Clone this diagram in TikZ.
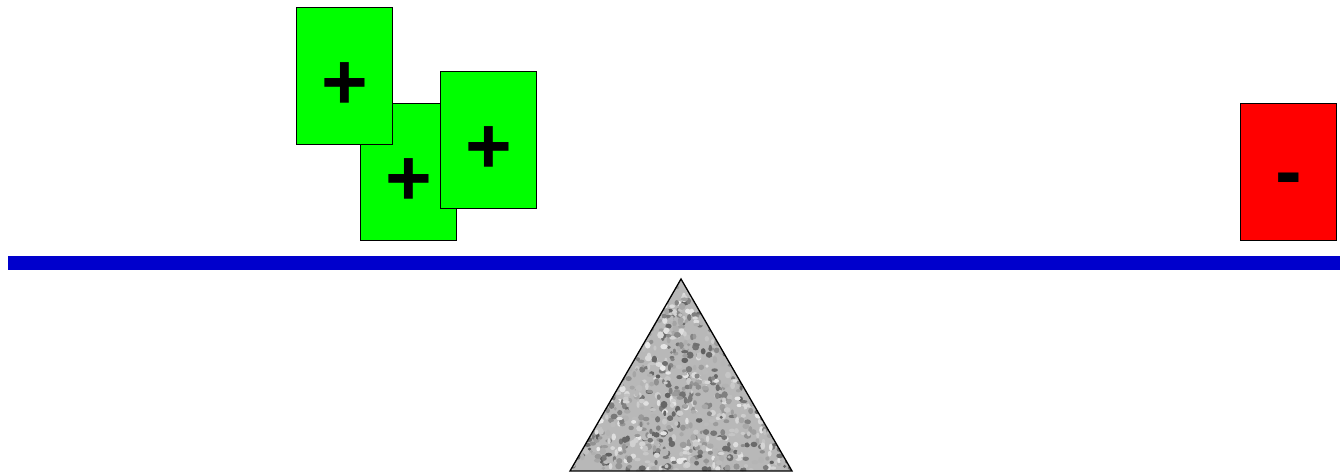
\documentclass[tikz,border=0pt]{standalone}
\usepackage{fontspec}
\setmainfont{Liberation Sans}
\definecolor{cardgreen}{HTML}{00FF00}
\definecolor{cardred}{HTML}{FF0000}
\definecolor{beamblue}{HTML}{0000CC}
\begin{document}
\begin{tikzpicture}[
  x=1pt, y=-1pt,
  card/.style={rectangle, draw=black, line width=1.3pt, minimum width=96pt, minimum height=137pt,
               inner sep=0pt, anchor=north west},
  pcard/.style={card, fill=cardgreen},
  mcard/.style={card, fill=cardred},
  sgn/.style={font=\fontsize{80}{80}\selectfont\bfseries, inner sep=0pt}
]
\useasboundingbox (0,0) rectangle (1340,473);
% ----- beam -----
\fill[beamblue] (8,256) rectangle (1340,270);
% ----- pivot, granite look -----
\coordinate (top) at (681,279);
\coordinate (bl)  at (570,471);
\coordinate (br)  at (792,471);
\begin{scope}
  \clip (top) -- (bl) -- (br) -- cycle;
  \fill[black!28] (570,279) rectangle (792,471);
  \pgfmathsetseed{11}
  \foreach \i in {1,...,1300}{
    \pgfmathsetmacro{\px}{570+222*rnd}
    \pgfmathsetmacro{\py}{279+192*rnd}
    \pgfmathsetmacro{\sh}{8+55*rnd}
    \fill[black!\sh] (\px,\py) ellipse ({1.5+2.2*rnd} and {1.5+2.2*rnd});
  }
\end{scope}
\draw[line width=1.3pt, line join=miter] (top) -- (bl) -- (br) -- cycle;
% ----- cards on the left -----
\node[pcard] (p2) at (360,103) {};
\node[pcard] (p1) at (296,7)   {};
\node[pcard] (p3) at (440,71)  {};
\node[sgn] (s1) at ([yshift=-10pt]p1.center) {+};
\node[sgn] (s2) at ([yshift=-10pt]p2.center) {+};
\node[sgn] (s3) at ([yshift=-10pt]p3.center) {+};
% ----- card on the right -----
\node[mcard] (m1) at (1240,103) {};
\node[sgn] (s4) at ([yshift=-14pt]m1.center) {-};
\end{tikzpicture}
\end{document}
